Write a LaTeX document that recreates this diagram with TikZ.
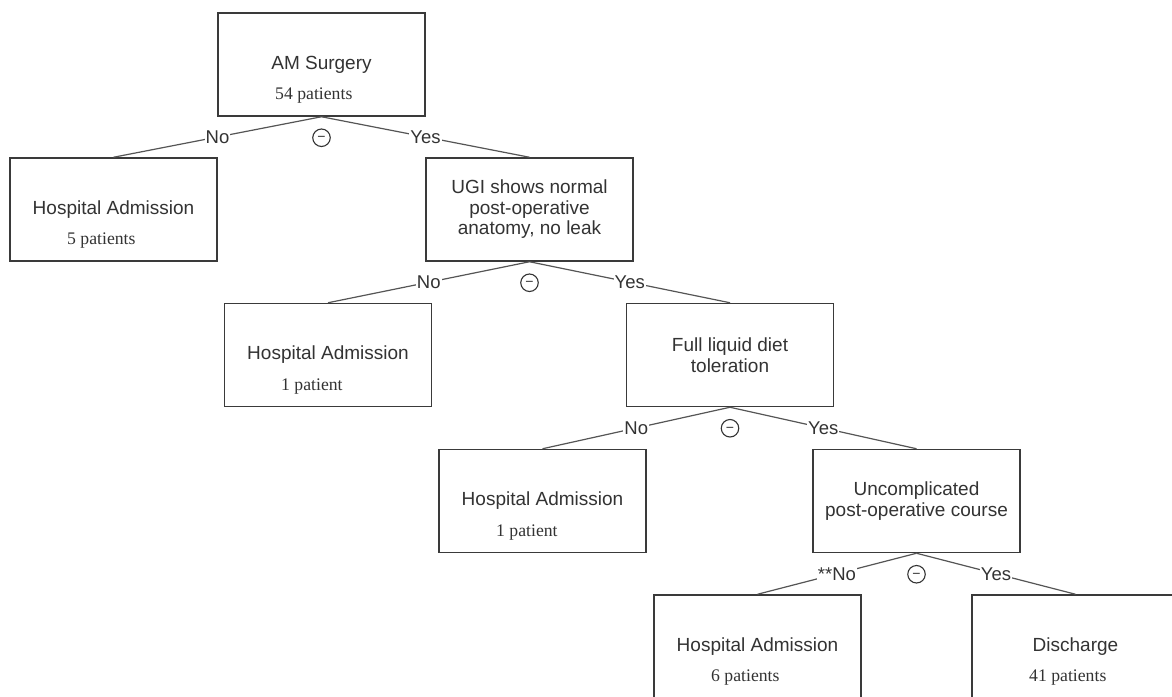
\documentclass[tikz,border=0pt]{standalone}
\usepackage{fontspec}
\setmainfont{Liberation Serif}
\setsansfont{Liberation Sans}
\usetikzlibrary{calc}
\definecolor{txt}{HTML}{333333}
\definecolor{boxline}{HTML}{3A3A3A}
\definecolor{connline}{HTML}{555555}
\begin{document}
\begin{tikzpicture}[x=1pt,y=-1pt,
  box/.style={draw=boxline, line width=1.5pt, minimum width=207pt, minimum height=103pt,
    inner sep=0pt, font=\sffamily\fontsize{19}{20.5}\selectfont, text=txt, align=center},
  pat/.style={anchor=base west, inner sep=0pt, text=txt, font=\rmfamily\fontsize{17.7}{20}\selectfont},
  lbl/.style={fill=white, inner sep=1pt, text=txt, font=\sffamily\fontsize{18.5}{20}\selectfont},
  conn/.style={draw=connline, line width=1.2pt},
  circ/.style={circle, draw=txt, line width=1.1pt, minimum size=17.5pt, inner sep=0pt,
    text height=7.6pt, text depth=0pt,
    text=txt, font=\sffamily\fontsize{14}{14}\selectfont}]
\clip (0,0) rectangle (1172,696);
\fill[white] (0,0) rectangle (1172,696);

% boxes
\node[box] (am)  at (321.5,64.5) {AM Surgery};
\node[box] (ha1) at (113.5,209.5) {Hospital Admission};
\node[box] (ugi) at (529.5,209.5) {UGI shows normal\\post-operative\\anatomy, no leak};
\node[box] (ha2) at (328,355) {Hospital Admission};
\node[box] (fl)  at (730,355) {Full liquid diet\\toleration};
\node[box] (ha3) at (542.5,501) {Hospital Admission};
\node[box] (unc) at (916.5,501) {Uncomplicated\\post-operative course};
\node[box] (ha4) at (757.5,646.5) {Hospital Admission};
\node[box] (dis) at (1075.5,646.5) {Discharge};

% patient counts
\node[pat] (p0) at (275,99.5) {54 patients};
\node[pat] (p1) at (67,244.5) {5 patients};
\node[pat] (p2) at (281,390) {1 patient};
\node[pat] (p3) at (496,536) {1 patient};
\node[pat] (p4) at (711,681.5) {6 patients};
\node[pat] (p5) at (1029,681.5) {41 patients};

% connectors
\draw[conn] (am.south) -- node[lbl] (n0) {No} (ha1.north);
\draw[conn] (am.south) -- node[lbl] (y0) {Yes} (ugi.north);
\draw[conn] (ugi.south) -- node[lbl] (n1) {No} (ha2.north);
\draw[conn] (ugi.south) -- node[lbl] (y1) {Yes} (fl.north);
\draw[conn] (fl.south) -- node[lbl] (n2) {No} (ha3.north);
\draw[conn] (fl.south) -- node[lbl] (y2) {Yes} (unc.north);
\draw[conn] (unc.south) -- node[lbl] (n3) {**No} (ha4.north);
\draw[conn] (unc.south) -- node[lbl] (y3) {Yes} (dis.north);

% circled minus marks
\node[circ] (c0) at ($(am.south)+(0,21)$) {−};
\node[circ] (c1) at ($(ugi.south)+(0,21)$) {−};
\node[circ] (c2) at ($(fl.south)+(0,21)$) {−};
\node[circ] (c3) at ($(unc.south)+(0,21)$) {−};
\end{tikzpicture}
\end{document}
